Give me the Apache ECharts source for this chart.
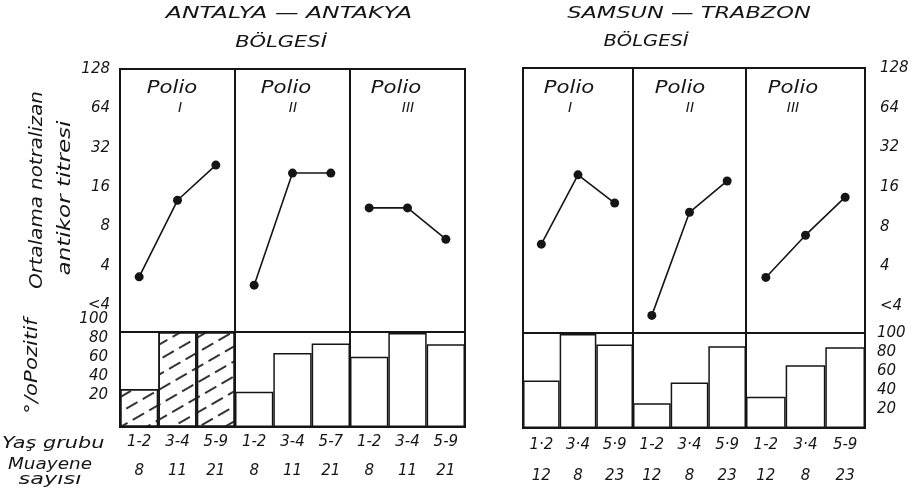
<!DOCTYPE html>
<html><head><meta charset="utf-8">
<script src="https://cdn.jsdelivr.net/npm/echarts@6/dist/echarts.min.js"></script>
<style>html,body{margin:0;padding:0;background:#fff}#c{width:922px;height:498px}</style>
</head><body><div id="c"></div>
<script>
// ---- data ----
const ageGroupsLeft = ['1-2','3-4','5-9','1-2','3-4','5-7','1-2','3-4','5-9'];
const countsLeft = ['8','11','21','8','11','21','8','11','21'];
const ageGroupsRight = ['1·2','3·4','5·9','1-2','3·4','5·9','1-2','3·4','5-9'];
const countsRight = ['12','8','23','12','8','23','12','8','23'];
const polioTypes = ['I','II','III'];
// mean neutralizing antibody titre (log2 scale)
const titerLeftPolioI = [3.3, 12.7, 23.6];
const titerLeftPolioII = [2.85, 20.5, 20.5];
const titerLeftPolioIII = [11.1, 11.1, 6.4];
const titerRightPolioI = [5.9, 19.8, 12.1];
const titerRightPolioII = [1.7, 10.3, 17.8];
const titerRightPolioIII = [3.3, 6.9, 13.4];
// percent positive
const posLeftPolioI = [40, 100, 100];
const posLeftPolioII = [37, 78, 88];
const posLeftPolioIII = [74, 99, 87];
const posRightPolioI = [50, 99, 88];
const posRightPolioII = [26, 48, 86];
const posRightPolioIII = [33, 66, 85];
const titerTicks = [2, 4, 8, 16, 32, 64, 128];
const titerTickLabels = ['<4', '4', '8', '16', '32', '64', '128'];
const percentTicks = [20, 40, 60, 80, 100];

// ---- layout ----
const FONT = 'DejaVu Sans';
const INK = '#151515';
const txt = (size) => ({fontFamily: FONT, fontStyle: 'italic', fontSize: size, color: INK});
const pctFormatter = (v) => percentTicks.indexOf(v) >= 0 ? String(v) : '';

const panels = [
  {titers: [titerLeftPolioI, titerLeftPolioII, titerLeftPolioIII],
   pos: [posLeftPolioI, posLeftPolioII, posLeftPolioIII],
   ages: ageGroupsLeft, counts: countsLeft,
   edges: [120, 235, 350, 465], top: 69, mid: 332, bottom: 427, side: 'left',
   hatch: [true, false, false], catMargin: 8, countOffset: 29, barShift: 13,
   lineMargin: 10, barMargin: 12},
  {titers: [titerRightPolioI, titerRightPolioII, titerRightPolioIII],
   pos: [posRightPolioI, posRightPolioII, posRightPolioIII],
   ages: ageGroupsRight, counts: countsRight,
   edges: [523, 633, 746, 865], top: 68, mid: 333, bottom: 428, side: 'right',
   hatch: [false, false, false], catMargin: 10, countOffset: 31, barShift: 0,
   lineMargin: 15, barMargin: 12}
];

const grid = [], xAxis = [], yAxis = [], series = [];
panels.forEach((P) => {
  for (let g = 0; g < 3; g++) {
    const left = P.edges[g], width = P.edges[g + 1] - P.edges[g];
    const showAxis = (P.side === 'left' && g === 0) || (P.side === 'right' && g === 2);
    const ages = P.ages.slice(g * 3, g * 3 + 3);
    const counts = P.counts.slice(g * 3, g * 3 + 3);
    // titre grid
    const lg = grid.length;
    grid.push({left: left, width: width, top: P.top, height: P.mid - P.top,
      show: true, borderColor: INK, borderWidth: 2, backgroundColor: 'transparent'});
    const lx = xAxis.length;
    xAxis.push({gridIndex: lg, type: 'category', data: ages, show: false});
    const ly = yAxis.length;
    yAxis.push({gridIndex: lg, type: 'log', logBase: 2, min: 1.25, max: 128, splitNumber: 7,
      show: showAxis, position: P.side,
      axisLine: {show: false}, axisTick: {show: false}, splitLine: {show: false},
      axisLabel: Object.assign(txt(15), {margin: P.lineMargin,
        showMaxLabel: true, hideOverlap: false,
        formatter: (v) => {
          for (let i = 0; i < titerTicks.length; i++) {
            if (Math.abs(v - titerTicks[i]) < 0.05) return titerTickLabels[i];
          }
          return '';
        }})});
    series.push({type: 'line', xAxisIndex: lx, yAxisIndex: ly, data: P.titers[g],
      symbol: 'circle', symbolSize: 9, silent: true, animation: false,
      lineStyle: {color: INK, width: 1.6}, itemStyle: {color: INK}});
    // percent grid
    const bg = grid.length;
    grid.push({left: left, width: width, top: P.mid, height: P.bottom - P.mid,
      show: true, borderColor: INK, borderWidth: 2, backgroundColor: 'transparent'});
    const bx = xAxis.length;
    xAxis.push({gridIndex: bg, type: 'category', data: ages, position: 'bottom',
      axisLine: {show: false}, axisTick: {show: false},
      axisLabel: Object.assign(txt(15), {margin: P.catMargin, interval: 0})});
    xAxis.push({gridIndex: bg, type: 'category', data: counts, position: 'bottom',
      offset: P.countOffset, axisLine: {show: false}, axisTick: {show: false},
      axisLabel: Object.assign(txt(15), {margin: P.catMargin, interval: 0})});
    const by = yAxis.length;
    yAxis.push({gridIndex: bg, type: 'value', min: 0, max: 100, interval: 20,
      show: showAxis && P.barShift === 0, position: P.side,
      axisLine: {show: false}, axisTick: {show: false}, splitLine: {show: false},
      axisLabel: Object.assign(txt(15), {margin: P.barMargin,
        showMaxLabel: true, showMinLabel: true, formatter: pctFormatter})});
    const itemStyle = {color: '#fff', borderColor: INK, borderWidth: 1.5};
    if (P.hatch[g]) {
      itemStyle.decal = {symbol: 'rect', symbolSize: 1, color: '#333',
        dashArrayX: [13, 6], dashArrayY: [1.5, 11], rotation: -Math.PI / 6};
    }
    series.push({type: 'bar', xAxisIndex: bx, yAxisIndex: by, data: P.pos[g],
      barCategoryGap: '0%', silent: true, animation: false, itemStyle: itemStyle});
    // the printed percent scale on the left sits a little higher than the bars' own scale
    if (showAxis && P.barShift > 0) {
      const sg = grid.length;
      grid.push({left: left, width: width, top: P.mid - P.barShift, height: P.bottom - P.mid, show: false});
      xAxis.push({gridIndex: sg, type: 'category', data: ages, show: false});
      yAxis.push({gridIndex: sg, type: 'value', min: 0, max: 100, interval: 20,
        position: P.side,
        axisLine: {show: false}, axisTick: {show: false}, splitLine: {show: false},
        axisLabel: Object.assign(txt(15), {margin: P.barMargin,
          showMaxLabel: true, showMinLabel: true, formatter: pctFormatter})});
    }
  }
});

// ---- text graphics ----
const T = (text, x, y, size, opts) => Object.assign({
  type: 'text', x: x, y: y, silent: true,
  style: {text: text, font: 'italic ' + size + 'px "' + FONT + '"', fill: INK,
    align: (opts && opts.align) || 'center', verticalAlign: 'middle'}
}, opts && opts.el);

const polioLeft = [[172, 180], [286, 293], [396, 408]];
const polioRight = [[569, 570], [680, 690], [793, 793]];
const graphics = [
  T('ANTALYA — ANTAKYA', 289, 14, 15, {el: {scaleX: 1.57}}),
  T('BÖLGESİ', 281, 43, 15, {el: {scaleX: 1.4}}),
  T('SAMSUN — TRABZON', 689, 14, 15, {el: {scaleX: 1.5}}),
  T('BÖLGESİ', 646, 42, 15, {el: {scaleX: 1.3}}),
  T('Ortalama notralizan', 37, 190, 18, {el: {rotation: Math.PI / 2, scaleX: 1.1}}),
  T('antikor titresi', 65, 198, 18, {el: {rotation: Math.PI / 2, scaleX: 1.28}}),
  T('°/oPozitif', 33, 366, 17, {el: {rotation: Math.PI / 2, scaleX: 1.25}}),
  T('Yaş grubu', 2, 444, 16, {align: 'left', el: {scaleX: 1.3}}),
  T('Muayene', 50, 465, 16, {el: {scaleX: 1.15}}),
  T('sayısı', 50, 480, 16, {el: {scaleX: 1.4}})
];
polioLeft.concat(polioRight).forEach((p, i) => {
  graphics.push(T('Polio', p[0], 89, 17, {el: {scaleX: 1.25}}));
  graphics.push(T(polioTypes[i % 3], p[1], 108, 14, {}));
});

const chart = echarts.init(document.getElementById('c'), null, {renderer: 'canvas'});
chart.setOption({
  backgroundColor: '#fff',
  animation: false,
  grid: grid, xAxis: xAxis, yAxis: yAxis, series: series,
  graphic: graphics
});
</script>
</body></html>
